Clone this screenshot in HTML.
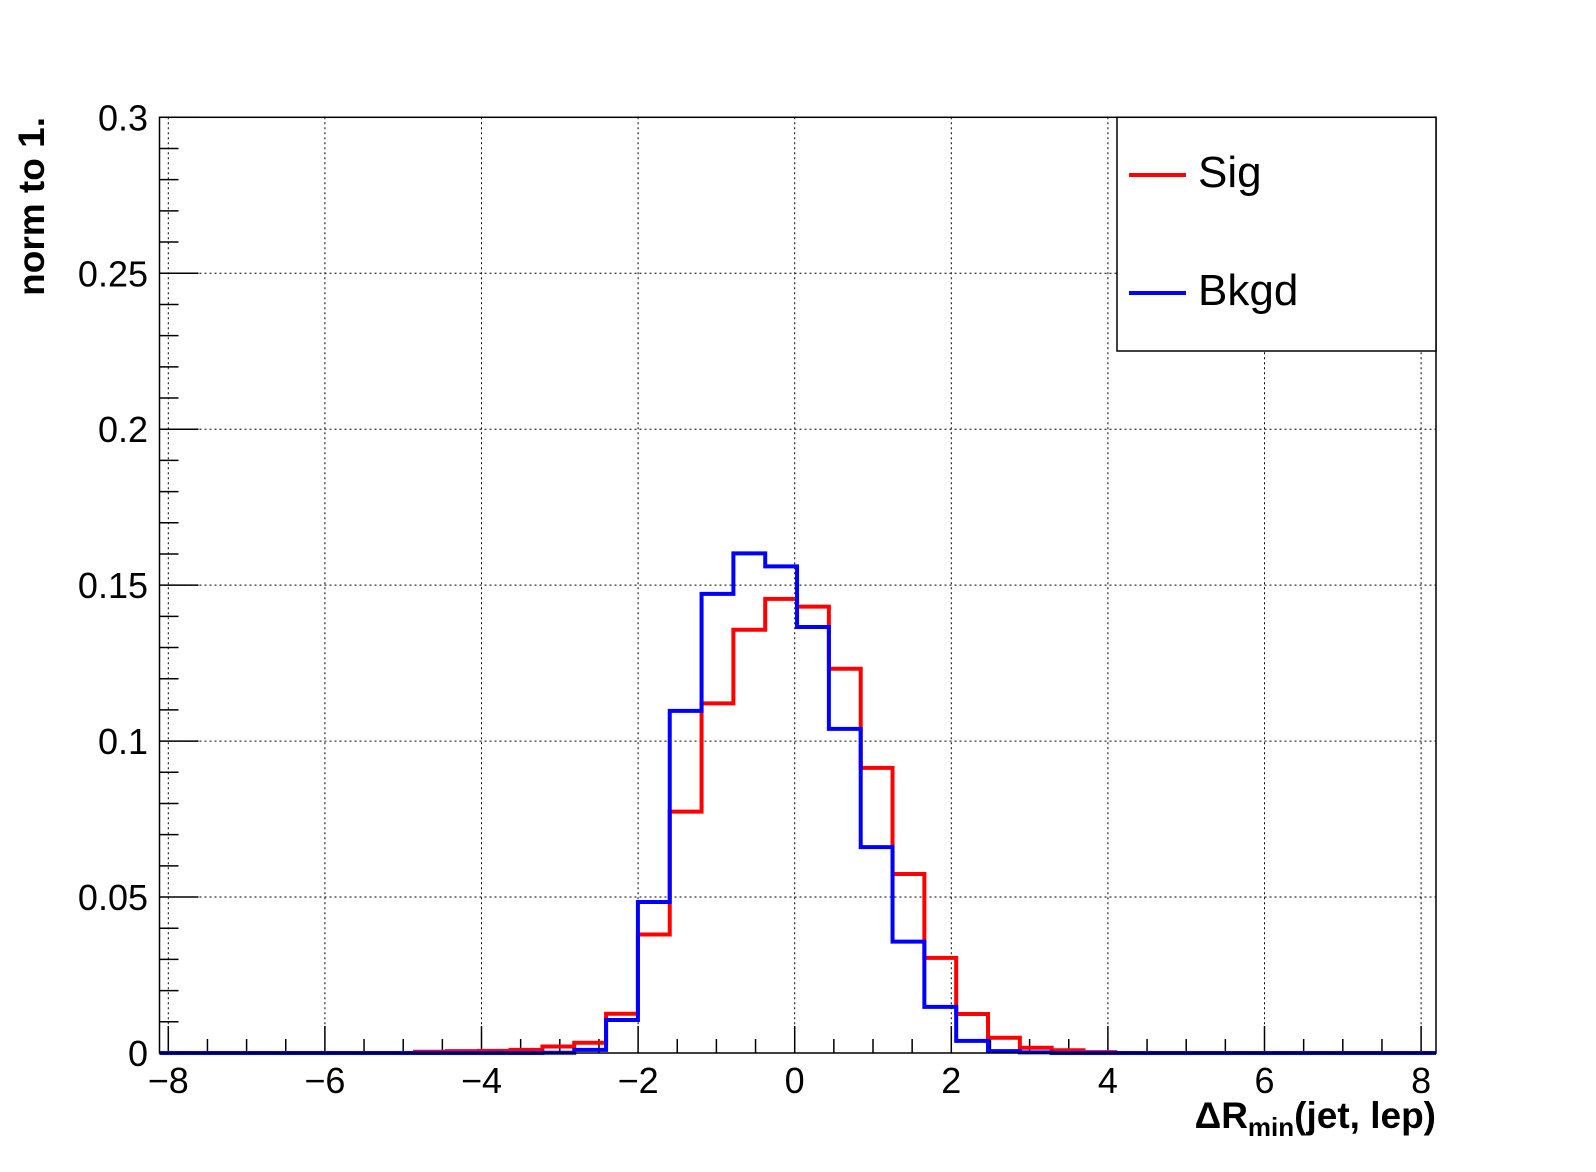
<!DOCTYPE html>
<html><head><meta charset="utf-8"><style>
html,body{margin:0;padding:0;background:#fff;}
svg{display:block;font-family:"Liberation Sans",Arial,sans-serif;}
</style></head><body>
<svg id="chart" width="1596" height="1172" viewBox="0 0 1596 1172" xmlns="http://www.w3.org/2000/svg">
<rect width="1596" height="1172" fill="#fff"/>
<g id="grid"></g>
<g id="ticks"></g>
<g id="series"></g>
<rect x="159.5" y="117.3" width="1276.5" height="935.7" fill="none" stroke="#000" stroke-width="1.5"/>
<g id="labels" font-size="36"></g>
<text transform="translate(44,117) rotate(-90)" text-anchor="end" font-size="37" font-weight="bold">norm to 1.</text>
<text x="1436" y="1128" text-anchor="end" font-size="37" font-weight="bold">ΔR<tspan font-size="26" dy="8">min</tspan><tspan dy="-8">(jet, lep)</tspan></text>
<g>
<rect x="1117" y="117.3" width="319" height="233.7" fill="#fff" stroke="#000" stroke-width="1.5"/>
<g>
<line x1="1129" y1="175" x2="1186" y2="175" stroke="#ff0000" stroke-width="4"/>
<text x="1198" y="187" font-size="44">Sig</text></g>
<g>
<line x1="1129" y1="293" x2="1186" y2="293" stroke="#0000ff" stroke-width="4"/>
<text x="1198" y="305" font-size="44">Bkgd</text></g>
</g>
</svg>
<script>
// data
const binStart = -8.1;
const binWidth = 0.4065;
const sigValues = [0,0,0,0,0,0,0,0,0.0004,0.0006,0.0007,0.001,0.0021,0.0033,0.0126,0.038,0.0774,0.1121,0.1357,0.1456,0.1431,0.1232,0.0914,0.0574,0.0305,0.0125,0.0049,0.0017,0.0009,0.0003,0,0,0,0,0,0,0,0,0,0];
const bkgValues = [0,0,0,0,0,0,0,0,0,0,0,0,0.0001,0.001,0.0106,0.0484,0.1097,0.1472,0.1602,0.156,0.1366,0.1039,0.066,0.0357,0.0148,0.0039,0.0006,0.0002,0,0,0,0,0,0,0,0,0,0,0,0];
const xTickLabels = [-8,-6,-4,-2,0,2,4,6,8];
const yTickLabels = [0,0.05,0.1,0.15,0.2,0.25,0.3];

const NS="http://www.w3.org/2000/svg";
const X0=794.7, XS=78.3, Y0=1053, YS=3119;
const fx=v=>X0+v*XS, fy=v=>Y0-v*YS;
const L=159.5,R=1436,T=117.3,B=1053;
function mk(tag,attrs,parent){const e=document.createElementNS(NS,tag);for(const k in attrs)e.setAttribute(k,attrs[k]);parent.appendChild(e);return e;}
const grid=document.getElementById('grid'),ticks=document.getElementById('ticks'),labels=document.getElementById('labels'),series=document.getElementById('series');
xTickLabels.forEach(v=>{
  const x=fx(v);
  const g=mk('line',{x1:x,x2:x,y1:T,y2:B,stroke:'#000','stroke-width':1,'stroke-dasharray':'2,3'},grid);
  
  
  const t=mk('line',{x1:x,x2:x,y1:B,y2:B-27,stroke:'#000','stroke-width':1.5},ticks);
  
  
  const lb=mk('text',{x:x,y:1093,'text-anchor':'middle'},labels);
  lb.textContent=(v<0?'\u2212'+(-v):String(v));
  
  
});
for(let v=-8;v<=8.01;v+=0.5){
  if(Math.abs(v-Math.round(v/2)*2)<0.01)continue;
  const x=fx(v);
  const t=mk('line',{x1:x,x2:x,y1:B,y2:B-14,stroke:'#000','stroke-width':1.5},ticks);
  
  
}
yTickLabels.forEach(v=>{
  const y=fy(v);
  if(v>0&&v<0.3){
    const g=mk('line',{x1:L,x2:R,y1:y,y2:y,stroke:'#000','stroke-width':1,'stroke-dasharray':'2,3'},grid);
    
    
  }
  const t=mk('line',{x1:L,x2:L+39,y1:y,y2:y,stroke:'#000','stroke-width':1.5},ticks);
  
  
  const lb=mk('text',{x:148,y:y+13,'text-anchor':'end'},labels);
  lb.textContent=String(v);
  
  
});
for(let i=1;i<30;i++){
  if(i%5===0)continue;
  const y=fy(i*0.01);
  const t=mk('line',{x1:L,x2:L+19,y1:y,y2:y,stroke:'#000','stroke-width':1.5},ticks);
  
  
}
function stepPath(vals){
  let d='M'+L+','+fy(vals[0]);
  vals.forEach((v,i)=>{
    const x1=Math.max(L,fx(binStart+i*binWidth)), x2=Math.min(R,fx(binStart+(i+1)*binWidth));
    d+=' L'+x1+','+fy(v)+' L'+x2+','+fy(v);
  });
  d+=' L'+R+','+fy(0);
  return d;
}
const ps=mk('path',{d:stepPath(sigValues),fill:'none',stroke:'#ff0000','stroke-width':4},series);


const pb=mk('path',{d:stepPath(bkgValues),fill:'none',stroke:'#0000ff','stroke-width':4},series);


</script>
</body></html>
